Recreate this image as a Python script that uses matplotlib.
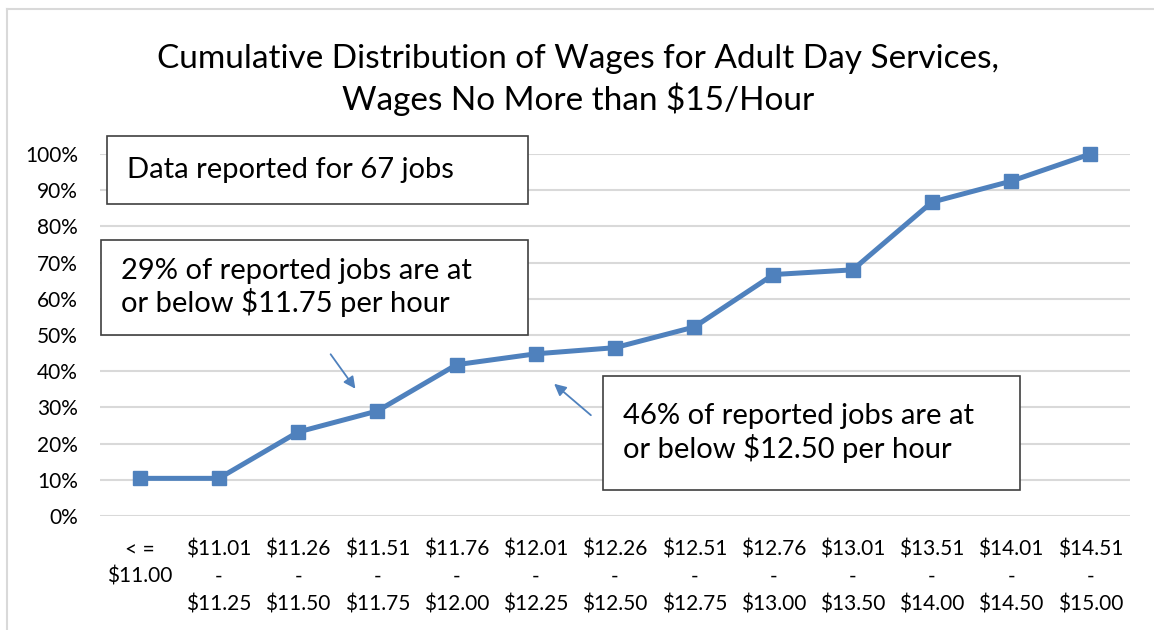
# Cumulative distribution of wages for adult day services (wages up to $15/hour)

import matplotlib.pyplot as plt
from matplotlib.patches import Rectangle, FancyArrowPatch
from matplotlib.lines import Line2D
from matplotlib.ticker import FuncFormatter

# Data
wage_bins = [
    '< =\n$11.00', '$11.01\n-\n$11.25', '$11.26\n-\n$11.50', '$11.51\n-\n$11.75',
    '$11.76\n-\n$12.00', '$12.01\n-\n$12.25', '$12.26\n-\n$12.50', '$12.51\n-\n$12.75',
    '$12.76\n-\n$13.00', '$13.01\n-\n$13.50', '$13.51\n-\n$14.00', '$14.01\n-\n$14.50',
    '$14.51\n-\n$15.00'
]
cum_share = [0.104, 0.104, 0.232, 0.29, 0.418, 0.448, 0.465, 0.522,
             0.667, 0.68, 0.867, 0.925, 1.0]

plt.rcParams['font.family'] = ['Lato', 'DejaVu Sans']

W, H = 1154, 630
fig = plt.figure(figsize=(W / 100, H / 100), dpi=100)


def px(x, y):
    # pixel position (from top-left) -> figure fraction
    return x / W, 1 - y / H


ax = fig.add_axes([100 / W, (H - 516) / H, 1030 / W, 362 / H])
x = list(range(len(cum_share)))
ax.plot(x, cum_share, color='#4F81BD', lw=3.6, marker='s', markersize=10.5,
        zorder=3, clip_on=False)

ax.set_xlim(-0.5, len(cum_share) - 0.5)
ax.set_ylim(0, 1.0)
ax.set_yticks([i / 10 for i in range(11)])
ax.yaxis.set_major_formatter(FuncFormatter(lambda v, p: f'{v:.0%}'))
ax.set_xticks(x)
ax.set_xticklabels(wage_bins, va='top', linespacing=1.45)
ax.tick_params(axis='both', length=0, labelsize=15, colors='black')
ax.tick_params(axis='x', pad=17)
ax.tick_params(axis='y', pad=16)
ax.grid(axis='y', color='#D9D9D9', lw=1.5)
ax.set_axisbelow(True)
for s in ax.spines.values():
    s.set_visible(False)

# Title
fig.text(578 / W, 1 - 44 / H,
         'Cumulative Distribution of Wages for Adult Day Services,\nWages No More than $15/Hour',
         ha='center', va='top', fontsize=24, linespacing=1.3)

# Outer chart border (cropped at right and bottom)
fig.add_artist(Line2D([7 / W, 1], [1 - 9 / H, 1 - 9 / H], color='#D9D9D9', lw=1.5))
fig.add_artist(Line2D([7 / W, 7 / W], [0, 1 - 9 / H], color='#D9D9D9', lw=1.5))


def text_box(x0, y0, x1, y1, tx, txt):
    fx0, fy1 = px(x0, y1)
    fx1, fy0 = px(x1, y0)
    fig.add_artist(Rectangle((fx0, fy1), fx1 - fx0, fy0 - fy1, transform=fig.transFigure,
                             facecolor='white', edgecolor='#404040', lw=1.2, zorder=5))
    fig.text(tx / W, 1 - (y0 + y1) / 2 / H, txt, ha='left', va='center',
             fontsize=21, linespacing=1.2, zorder=6)


text_box(107, 136, 528, 204, 127, 'Data reported for 67 jobs')
text_box(101, 240, 528, 335, 121, '29% of reported jobs are at\nor below $11.75 per hour')
text_box(603, 376, 1020, 490, 623, '46% of reported jobs are at\nor below $12.50 per hour')

# Arrows
for (sx, sy), (ex, ey) in [((329, 352), (357, 391)), ((593, 417), (552, 382))]:
    fig.add_artist(FancyArrowPatch(px(sx, sy), px(ex, ey), transform=fig.transFigure,
                                   arrowstyle='-|>,head_length=7,head_width=3.5',
                                   color='#4F81BD', lw=1.3, zorder=6))

fig.savefig('out.png', dpi=100)
